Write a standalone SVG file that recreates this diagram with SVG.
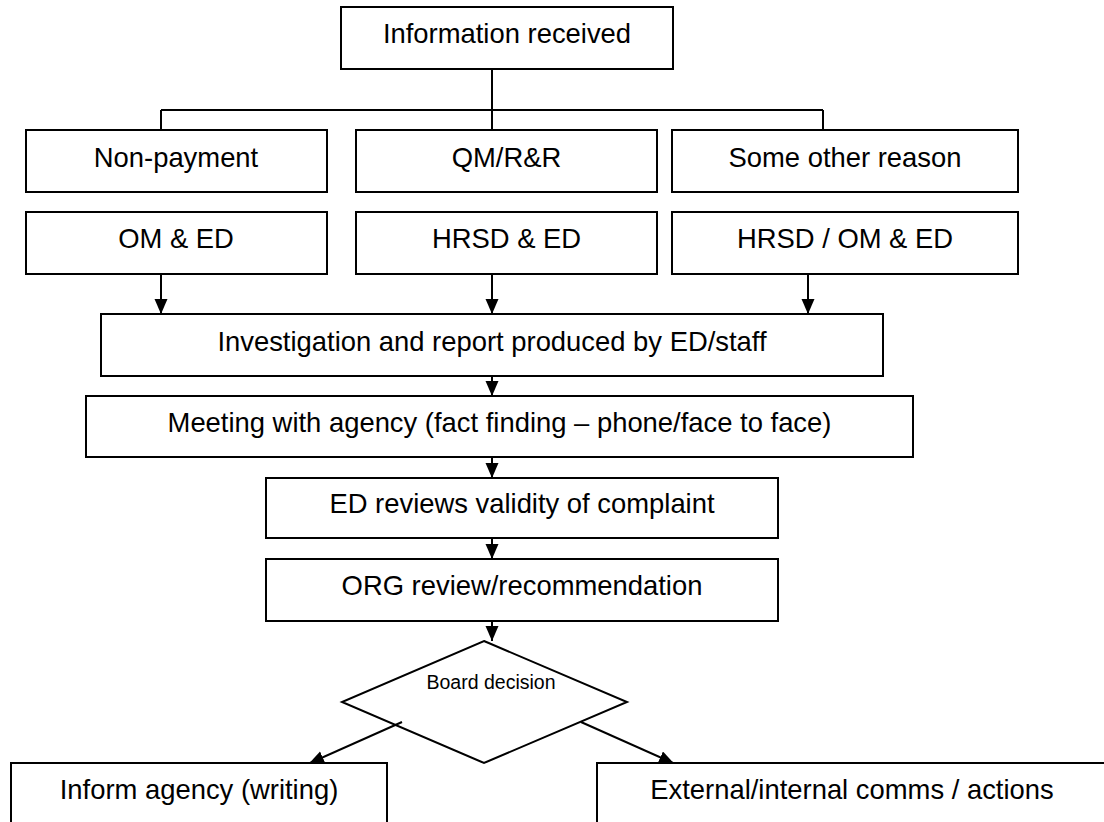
<svg xmlns="http://www.w3.org/2000/svg" width="1104" height="822" viewBox="0 0 1104 822">
<style>
.box{fill:#fff;stroke:#000;stroke-width:2}
.ln{fill:none;stroke:#000;stroke-width:2}
.t{font-family:"Liberation Sans",Arial,Helvetica,sans-serif;font-size:27.4px;fill:#000;text-anchor:middle}
.ts{font-family:"Liberation Sans",Arial,Helvetica,sans-serif;font-size:19.5px;fill:#000;text-anchor:middle}
</style>
<defs>
<marker id="ah" markerUnits="userSpaceOnUse" markerWidth="16" markerHeight="14" refX="15" refY="6.5" orient="auto" viewBox="0 0 16 14">
<path d="M0,0 L15,6.5 L0,13 z" fill="#000"/>
</marker>
</defs>
<rect width="1104" height="822" fill="#fff"/>
<g id="connectors">
<path class="ln" d="M492,69 V110 M161,110 H823 M161,110 V130 M492,110 V130 M823,110 V130"/>
<line class="ln" x1="161" y1="274" x2="161" y2="314" marker-end="url(#ah)"/>
<line class="ln" x1="492" y1="274" x2="492" y2="314" marker-end="url(#ah)"/>
<line class="ln" x1="808" y1="274" x2="808" y2="314" marker-end="url(#ah)"/>
<line class="ln" x1="492" y1="376" x2="492" y2="396" marker-end="url(#ah)"/>
<line class="ln" x1="492" y1="457" x2="492" y2="478" marker-end="url(#ah)"/>
<line class="ln" x1="492" y1="538" x2="492" y2="559" marker-end="url(#ah)"/>
<line class="ln" x1="492" y1="621" x2="492" y2="641" marker-end="url(#ah)"/>
<line class="ln" x1="402" y1="722" x2="309" y2="763.5" marker-end="url(#ah)"/>
<line class="ln" x1="581" y1="722" x2="674" y2="763.5" marker-end="url(#ah)"/>
</g>
<g id="n-info"><rect class="box" x="341" y="7" width="332" height="62"/><text class="t" x="507" y="43">Information received</text></g>
<g id="n-nonpay"><rect class="box" x="26" y="130" width="301" height="62"/><text class="t" x="176" y="167">Non-payment</text></g>
<g id="n-qm"><rect class="box" x="356" y="130" width="301" height="62"/><text class="t" x="506.5" y="167">QM/R&amp;R</text></g>
<g id="n-other"><rect class="box" x="672" y="130" width="346" height="62"/><text class="t" x="845" y="167">Some other reason</text></g>
<g id="n-omed"><rect class="box" x="26" y="212" width="301" height="62"/><text class="t" x="176" y="248">OM &amp; ED</text></g>
<g id="n-hrsded"><rect class="box" x="356" y="212" width="301" height="62"/><text class="t" x="506.5" y="248">HRSD &amp; ED</text></g>
<g id="n-hrsdomed"><rect class="box" x="672" y="212" width="346" height="62"/><text class="t" x="845" y="248">HRSD / OM &amp; ED</text></g>
<g id="n-invest"><rect class="box" x="101" y="314" width="782" height="62"/><text class="t" x="492" y="350.5">Investigation and report produced by ED/staff</text></g>
<g id="n-meeting"><rect class="box" x="86" y="396" width="827" height="61"/><text class="t" x="499.5" y="431.5">Meeting with agency (fact finding – phone/face to face)</text></g>
<g id="n-edreview"><rect class="box" x="266" y="478" width="512" height="60"/><text class="t" x="522" y="513">ED reviews validity of complaint</text></g>
<g id="n-org"><rect class="box" x="266" y="559" width="512" height="62"/><text class="t" x="522" y="595">ORG review/recommendation</text></g>
<g id="n-board"><polygon class="box" points="484,641 627,702 484,763 342,702" fill="none" style="fill:none"/><text class="ts" x="491" y="688.5">Board decision</text></g>
<g id="n-inform"><rect class="box" x="11" y="763" width="376" height="70"/><text class="t" x="199" y="799">Inform agency (writing)</text></g>
<g id="n-external"><rect class="box" x="597" y="763" width="510" height="70"/><text class="t" x="852" y="799">External/internal comms / actions</text></g>
</svg>
